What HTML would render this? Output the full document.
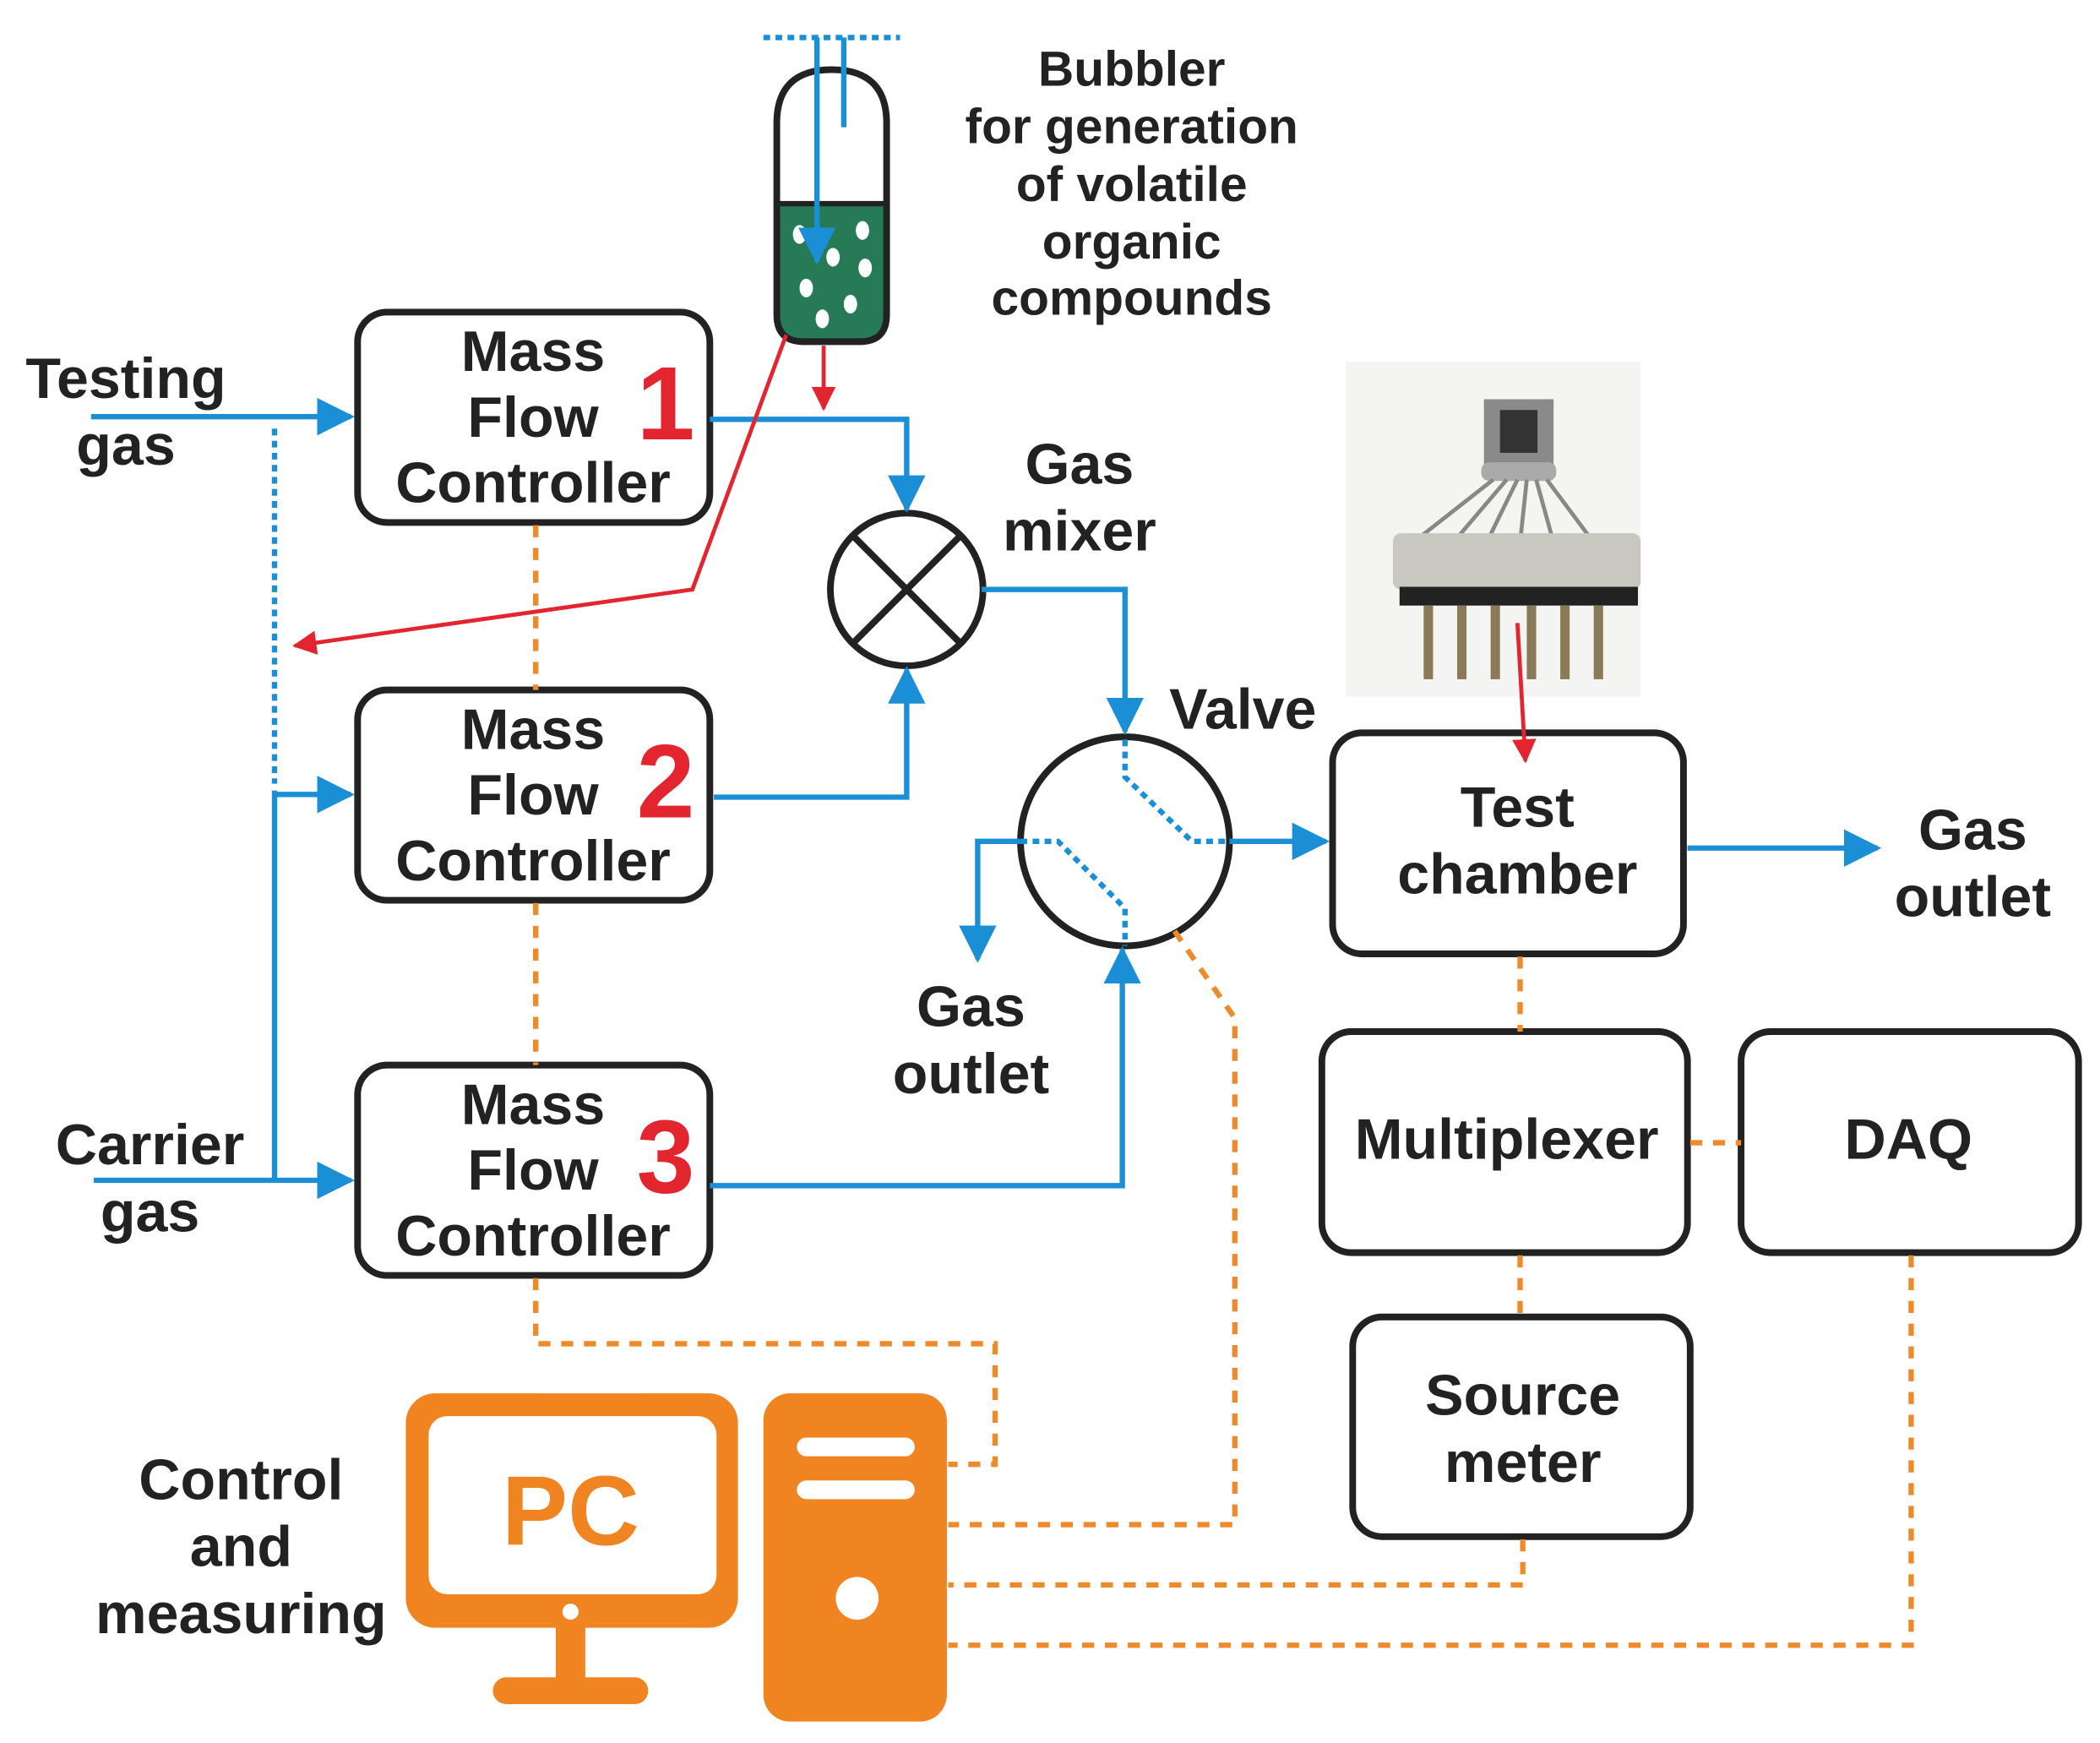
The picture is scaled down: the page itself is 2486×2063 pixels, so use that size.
<!DOCTYPE html>
<html><head><style>html,body{margin:0;padding:0;background:#fff}svg{display:block}</style></head><body>
<svg width="2486" height="2063" viewBox="0 0 1568 1301" preserveAspectRatio="none" xmlns="http://www.w3.org/2000/svg" font-family="Liberation Sans, sans-serif" font-weight="bold">
<defs>
<marker id="ab" viewBox="0 0 10 10" refX="9" refY="5" markerWidth="7" markerHeight="7" markerUnits="strokeWidth" orient="auto"><path d="M0,0 L10,5 L0,10 z" fill="#1a8fd6"/></marker>
<marker id="ar" viewBox="0 0 10 10" refX="9" refY="5" markerWidth="8" markerHeight="6" markerUnits="strokeWidth" orient="auto"><path d="M0,0 L10,5 L0,10 z" fill="#e32530"/></marker>
</defs>
<g fill="none" stroke="#222" stroke-width="5">
<rect x="267" y="233" width="263" height="157" rx="22"/>
<rect x="267" y="515" width="263" height="157" rx="22"/>
<rect x="267" y="795" width="263" height="157" rx="22"/>
<rect x="995" y="547" width="262" height="165" rx="22"/>
<rect x="987" y="770" width="273" height="165" rx="22"/>
<rect x="1300" y="770" width="252" height="165" rx="22"/>
<rect x="1010" y="983" width="252" height="164" rx="22"/>
<circle cx="677" cy="440" r="57"/>
<line x1="637" y1="400" x2="717" y2="480"/><line x1="717" y1="400" x2="637" y2="480"/>
<circle cx="840" cy="628" r="78"/>
</g>
<g fill="none" stroke="#ef8a2a" stroke-width="4" stroke-dasharray="9 8">
<path d="M400 392V515M400 674V795M1135 714V770M1135 937V983M1262 853H1300"/>
<path d="M400 954V1003H743V1093H708"/>
<path d="M877 695L922 760V1138H708"/>
<path d="M1137 1149V1183H708"/>
<path d="M1427 937V1228H708"/>
</g>
<g fill="none" stroke="#1a8fd6" stroke-width="4">
<path d="M68 311H262" marker-end="url(#ab)"/>
<path d="M205 593H262" marker-end="url(#ab)"/>
<path d="M70 881H262" marker-end="url(#ab)"/>
<path d="M205 590V881"/>
<path d="M205 320V585" stroke-dasharray="5 4"/>
<path d="M530 313H677V380" marker-end="url(#ab)"/>
<path d="M533 595H677V500" marker-end="url(#ab)"/>
<path d="M733 440H840V546" marker-end="url(#ab)"/>
<path d="M918 628H990" marker-end="url(#ab)"/>
<path d="M762 628H730V716" marker-end="url(#ab)"/>
<path d="M530 885H838V709" marker-end="url(#ab)"/>
<path d="M1260 633H1402" marker-end="url(#ab)"/>
<path d="M840 552V580L890 628H918M762 628H790L840 678V706" stroke-dasharray="5 4"/>
<path d="M570 28H672" stroke-dasharray="5 4"/>
</g>
<path d="M580 152H662V235Q662 255 642 255H600Q580 255 580 235Z" fill="#267a56"/>
<path d="M580 235V92Q580 52 621 52Q662 52 662 92V235Q662 255 642 255H600Q580 255 580 235Z" fill="none" stroke="#222" stroke-width="5"/>
<line x1="580" y1="152" x2="662" y2="152" stroke="#222" stroke-width="4"/>
<g fill="#fff"><ellipse cx="597" cy="175" rx="5" ry="7"/><ellipse cx="644" cy="172" rx="5" ry="7"/><ellipse cx="622" cy="192" rx="5" ry="7"/><ellipse cx="646" cy="200" rx="5" ry="7"/><ellipse cx="602" cy="215" rx="5" ry="7"/><ellipse cx="635" cy="227" rx="5" ry="7"/><ellipse cx="614" cy="238" rx="5" ry="7"/></g>
<path d="M610 28V195" stroke="#1a8fd6" stroke-width="4" fill="none" marker-end="url(#ab)"/>
<path d="M630 28V95" stroke="#1a8fd6" stroke-width="4" fill="none"/>
<path d="M615 258V305" stroke="#e32530" stroke-width="3" fill="none" marker-end="url(#ar)"/>
<path d="M587 250L517 440L220 482" stroke="#e32530" stroke-width="3" fill="none" marker-end="url(#ar)"/>
<rect x="1005" y="270" width="220" height="250" fill="#f4f4f2"/>
<rect x="1108" y="298" width="52" height="50" fill="#8a8a8a"/>
<rect x="1120" y="306" width="28" height="32" fill="#333"/>
<rect x="1106" y="345" width="56" height="14" rx="6" fill="#aaa"/>
<g stroke="#888" stroke-width="3"><path d="M1115 358L1055 405M1125 358L1085 405M1133 358L1110 405M1140 358L1135 405M1147 358L1160 405M1155 358L1190 405"/></g>
<rect x="1040" y="398" width="185" height="42" rx="6" fill="#c9c8c0"/>
<rect x="1045" y="438" width="178" height="14" fill="#222"/>
<g fill="#8a7a58"><rect x="1063" y="452" width="7" height="55"/><rect x="1088" y="452" width="7" height="55"/><rect x="1113" y="452" width="7" height="55"/><rect x="1140" y="452" width="7" height="55"/><rect x="1165" y="452" width="7" height="55"/><rect x="1190" y="452" width="7" height="55"/></g>
<path d="M1133 465L1139 568" stroke="#e32530" stroke-width="3" fill="none" marker-end="url(#ar)"/>
<rect x="303" y="1040" width="248" height="175" rx="22" fill="#ef8420"/>
<rect x="320" y="1057" width="215" height="133" rx="14" fill="#fff"/>
<circle cx="426" cy="1203" r="6" fill="#fff"/>
<rect x="415" y="1213" width="22" height="44" fill="#ef8420"/>
<rect x="368" y="1252" width="116" height="20" rx="10" fill="#ef8420"/>
<rect x="570" y="1040" width="137" height="245" rx="20" fill="#ef8420"/>
<rect x="595" y="1073" width="88" height="14" rx="7" fill="#fff"/>
<rect x="595" y="1105" width="88" height="14" rx="7" fill="#fff"/>
<circle cx="640" cy="1193" r="16" fill="#fff"/>
<g fill="#222" font-size="43" text-anchor="middle">
<text x="398" y="277">Mass</text><text x="398" y="326">Flow</text><text x="398" y="375">Controller</text>
<text x="398" y="559">Mass</text><text x="398" y="608">Flow</text><text x="398" y="657">Controller</text>
<text x="398" y="839">Mass</text><text x="398" y="888">Flow</text><text x="398" y="937">Controller</text>
<text x="94" y="297">Testing</text><text x="94" y="347">gas</text>
<text x="112" y="869">Carrier</text><text x="112" y="919">gas</text>
<text x="806" y="361">Gas</text><text x="806" y="411">mixer</text>
<text x="928" y="544">Valve</text>
<text x="725" y="766">Gas</text><text x="725" y="816">outlet</text>
<text x="1133" y="617">Test</text><text x="1133" y="667">chamber</text>
<text x="1473" y="634">Gas</text><text x="1473" y="684">outlet</text>
<text x="1125" y="865">Multiplexer</text>
<text x="1425" y="865">DAQ</text>
<text x="1137" y="1056">Source</text><text x="1137" y="1106">meter</text>
<text x="180" y="1119">Control</text><text x="180" y="1169">and</text><text x="180" y="1219">measuring</text>
</g>
<g fill="#222" font-size="37" text-anchor="middle">
<text x="845" y="64">Bubbler</text><text x="845" y="107">for generation</text><text x="845" y="150">of volatile</text><text x="845" y="193">organic</text><text x="845" y="235">compounds</text>
</g>
<g fill="#e32530" font-size="78" text-anchor="middle">
<text x="497" y="328">1</text><text x="497" y="610">2</text><text x="497" y="890">3</text>
</g>
<text x="426" y="1153" fill="#ef8420" font-size="74" text-anchor="middle">PC</text>
</svg>
</body></html>
